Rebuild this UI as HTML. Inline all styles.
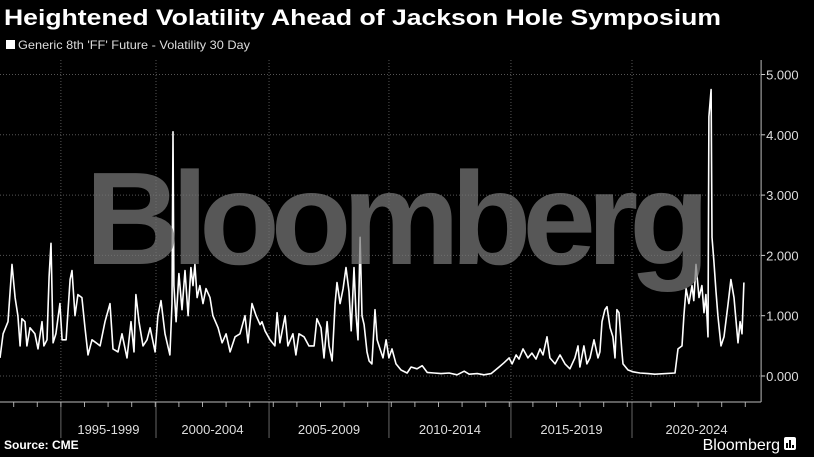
<!DOCTYPE html>
<html><head><meta charset="utf-8">
<style>
html,body{margin:0;padding:0;background:#000;}
svg{display:block;font-family:"Liberation Sans","DejaVu Sans",sans-serif;}
</style></head>
<body>
<svg id="chart" width="814" height="457" viewBox="0 0 814 457" xmlns="http://www.w3.org/2000/svg">
<rect width="814" height="457" fill="#000"/>
<text x="4" y="25" fill="#fff" font-size="22" font-weight="bold" textLength="717" lengthAdjust="spacingAndGlyphs">Heightened Volatility Ahead of Jackson Hole Symposium</text>
<g>
<rect x="6" y="40" width="9" height="9" fill="#fff"/>
<text x="18" y="49" fill="#ddd" font-size="12" textLength="232" lengthAdjust="spacingAndGlyphs">Generic 8th 'FF' Future - Volatility 30 Day</text>
</g>
<g id="grid"></g>
<g id="series"></g>
<text x="393" y="264" text-anchor="middle" fill="rgba(120,120,120,0.72)" font-size="132" font-weight="bold" letter-spacing="-9">Bloomberg</text>
<g id="axes"></g>
<text x="4" y="449" fill="#fff" font-size="12" font-weight="bold">Source: CME</text>
<text x="780" y="450" text-anchor="end" fill="#fff" font-size="16">Bloomberg</text>
<g><rect x="784" y="437" width="12" height="13" rx="2" fill="#fff"/><rect x="786" y="443" width="2" height="5" fill="#000"/><rect x="789" y="440" width="2" height="8" fill="#000"/><rect x="792" y="445" width="2" height="3" fill="#000"/></g>
</svg>
<script>
const years = [1992.42,1992.55,1992.76,1992.93,1993.06,1993.18,1993.27,1993.35,1993.48,1993.56,1993.69,1993.90,1994.03,1994.20,1994.28,1994.41,1994.50,1994.58,1994.67,1994.79,1994.96,1995.05,1995.22,1995.39,1995.47,1995.60,1995.72,1995.89,1996.02,1996.15,1996.32,1996.49,1996.66,1996.87,1997.08,1997.21,1997.42,1997.59,1997.80,1997.97,1998.10,1998.18,1998.31,1998.48,1998.65,1998.78,1998.99,1999.11,1999.24,1999.41,1999.62,1999.71,1999.75,1999.79,1999.88,2000.00,2000.13,2000.26,2000.39,2000.51,2000.60,2000.68,2000.77,2000.89,2001.02,2001.15,2001.32,2001.44,2001.66,2001.83,2002.00,2002.17,2002.38,2002.59,2002.80,2002.93,2003.10,2003.27,2003.44,2003.52,2003.65,2003.86,2004.07,2004.16,2004.28,2004.50,2004.62,2004.83,2004.96,2005.09,2005.30,2005.51,2005.73,2005.85,2006.02,2006.15,2006.28,2006.36,2006.49,2006.62,2006.70,2006.83,2006.96,2007.08,2007.21,2007.30,2007.42,2007.51,2007.59,2007.68,2007.76,2007.85,2007.97,2008.06,2008.18,2008.31,2008.40,2008.52,2008.65,2008.78,2008.90,2009.03,2009.20,2009.41,2009.67,2009.84,2010.09,2010.31,2010.52,2010.81,2011.11,2011.45,2011.79,2012.09,2012.30,2012.64,2012.93,2013.23,2013.57,2013.78,2013.99,2014.12,2014.29,2014.41,2014.58,2014.79,2014.96,2015.13,2015.30,2015.43,2015.60,2015.72,2015.94,2016.15,2016.36,2016.57,2016.78,2016.91,2016.99,2017.16,2017.29,2017.42,2017.59,2017.76,2017.84,2017.93,2018.05,2018.14,2018.27,2018.39,2018.48,2018.56,2018.65,2018.77,2018.82,2019.03,2019.24,2019.54,2019.88,2020.17,2021.02,2021.15,2021.32,2021.40,2021.49,2021.61,2021.74,2021.82,2021.91,2022.04,2022.16,2022.25,2022.33,2022.42,2022.46,2022.55,2022.59,2022.67,2022.76,2022.84,2022.97,2023.10,2023.27,2023.39,2023.52,2023.61,2023.69,2023.78,2023.86,2023.94];
const vols = [0.3,0.7,0.9,1.85,1.3,1.0,0.5,0.95,0.9,0.5,0.8,0.7,0.45,0.9,0.5,0.6,1.65,2.2,0.55,0.7,1.2,0.6,0.6,1.6,1.75,1.0,1.35,1.3,0.8,0.35,0.6,0.55,0.5,0.9,1.2,0.45,0.4,0.7,0.3,0.9,0.4,1.35,0.9,0.5,0.6,0.8,0.4,1.0,1.25,0.7,0.35,1.2,4.05,1.5,0.9,1.7,1.1,1.75,1.0,1.8,1.5,1.85,1.3,1.5,1.2,1.45,1.3,1.0,0.8,0.55,0.7,0.4,0.65,0.7,1.0,0.55,1.2,1.0,0.85,0.9,0.75,0.6,0.5,1.05,0.55,1.0,0.5,0.7,0.35,0.7,0.65,0.5,0.5,0.95,0.8,0.3,0.9,0.5,0.25,1.2,1.55,1.2,1.45,1.8,1.4,0.75,1.8,1.0,0.6,2.3,1.0,0.85,0.4,0.25,0.2,1.1,0.6,0.45,0.3,0.6,0.3,0.45,0.2,0.1,0.05,0.15,0.12,0.17,0.06,0.05,0.04,0.05,0.02,0.08,0.03,0.04,0.02,0.04,0.15,0.22,0.3,0.2,0.35,0.28,0.45,0.3,0.38,0.28,0.45,0.35,0.65,0.3,0.2,0.35,0.2,0.12,0.3,0.5,0.15,0.5,0.2,0.3,0.6,0.3,0.4,0.9,1.1,1.15,0.8,0.65,0.3,1.1,1.05,0.4,0.2,0.1,0.07,0.05,0.04,0.03,0.05,0.45,0.5,1.0,1.45,1.2,1.5,1.25,1.85,1.3,1.5,1.05,1.35,0.65,4.3,4.75,2.3,1.9,1.4,1.0,0.5,0.65,1.2,1.6,1.3,0.9,0.55,0.9,0.7,1.55];
const yTicks = [0,1,2,3,4,5];
const yTickLabels = ["0.000","1.000","2.000","3.000","4.000","5.000"];
const periodBounds = [1995.0,1999.03,2003.82,2008.9,2014.07,2019.2,2024.67];
const periodLabels = ["1995-1999","2000-2004","2005-2009","2010-2014","2015-2019","2020-2024"];

const NS="http://www.w3.org/2000/svg";
const X0=1992.42, PXY=23.6;
function xs(v){return (v-X0)*PXY;}
function ys(v){return 376-v*60.3;}
function mk(tag,attrs,parent){const e=document.createElementNS(NS,tag);for(const k in attrs)e.setAttribute(k,attrs[k]);parent.appendChild(e);return e;}
const grid=document.getElementById('grid'), axes=document.getElementById('axes'), series=document.getElementById('series');
const axisX=xs(periodBounds[periodBounds.length-1]);
yTicks.forEach((t,i)=>{
  const g=mk('line',{x1:0,x2:axisX,y1:ys(t),y2:ys(t),stroke:'#555','stroke-dasharray':'1,2','stroke-width':1},grid);
  
  
  const tk=mk('line',{x1:axisX,x2:axisX+4,y1:ys(t),y2:ys(t),stroke:'#ccc'},axes);
  
  
  const tx=mk('text',{x:axisX+5,y:ys(t)+5,fill:'#ddd','font-size':13},axes);
  tx.textContent=yTickLabels[i];
  
  
});
for(let i=0;i<periodBounds.length-1;i++){
  const b=xs(periodBounds[i]);
  const g=mk('line',{x1:b,x2:b,y1:60,y2:402,stroke:'#555','stroke-dasharray':'1,2'},grid);
  
  
  const d=mk('line',{x1:b,x2:b,y1:402,y2:438,stroke:'#666'},axes);
  
  
  const c=(xs(periodBounds[i])+xs(periodBounds[i+1]))/2;
  const t=mk('text',{x:c,y:434,fill:'#ddd','font-size':13,'text-anchor':'middle'},axes);
  t.textContent=periodLabels[i];
  
  
}
for(let y=1993;y<=2024;y++){
  const tk=mk('line',{x1:xs(y),x2:xs(y),y1:402,y2:407,stroke:'#aaa'},axes);
  
  
}
const ax=mk('line',{x1:0,x2:axisX,y1:402,y2:402,stroke:'#bbb'},axes);


const ay=mk('line',{x1:axisX,x2:axisX,y1:60,y2:402,stroke:'#bbb'},axes);


let d='';
years.forEach((yr,i)=>{d+=(i?'L':'M')+xs(yr).toFixed(1)+','+ys(vols[i]).toFixed(1);});
const p=mk('path',{d:d,fill:'none',stroke:'#fff','stroke-width':1.6,'stroke-linejoin':'round'},series);


</script>
</body></html>
